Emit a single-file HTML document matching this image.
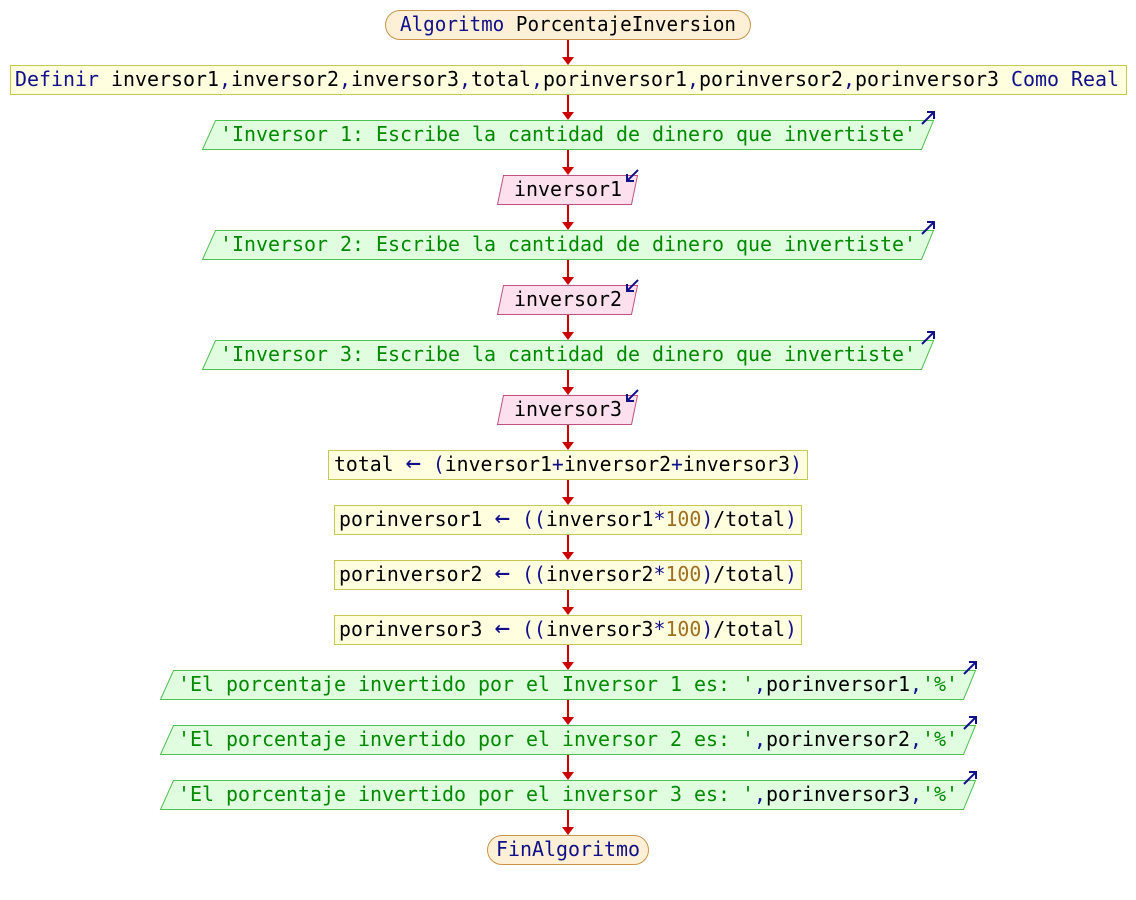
<!DOCTYPE html>
<html><head><meta charset="utf-8"><style>
html,body{margin:0;padding:0;background:#fff;width:1136px;height:900px;overflow:hidden}
text{font-family:"DejaVu Sans Mono","Liberation Mono",monospace;font-size:20px}
.k{fill:#10108a}.i{fill:#000}.s{fill:#008a00}.n{fill:#a07020}
.ar{font-size:26px}
</style></head><body>
<svg width="1136" height="900" xmlns="http://www.w3.org/2000/svg">
<g stroke="#cc0000" stroke-width="2">
<line x1="568" y1="39" x2="568" y2="58"/>
<line x1="568" y1="95" x2="568" y2="113"/>
<line x1="568" y1="150" x2="568" y2="168"/>
<line x1="568" y1="205" x2="568" y2="223"/>
<line x1="568" y1="260" x2="568" y2="278"/>
<line x1="568" y1="315" x2="568" y2="333"/>
<line x1="568" y1="370" x2="568" y2="388"/>
<line x1="568" y1="425" x2="568" y2="443"/>
<line x1="568" y1="480" x2="568" y2="498"/>
<line x1="568" y1="535" x2="568" y2="553"/>
<line x1="568" y1="590" x2="568" y2="608"/>
<line x1="568" y1="645" x2="568" y2="663"/>
<line x1="568" y1="700" x2="568" y2="718"/>
<line x1="568" y1="755" x2="568" y2="773"/>
<line x1="568" y1="810" x2="568" y2="828"/>
</g>
<g fill="#cc0000">
<polygon points="562,57 574,57 568,65"/>
<polygon points="562,112 574,112 568,120"/>
<polygon points="562,167 574,167 568,175"/>
<polygon points="562,222 574,222 568,230"/>
<polygon points="562,277 574,277 568,285"/>
<polygon points="562,332 574,332 568,340"/>
<polygon points="562,387 574,387 568,395"/>
<polygon points="562,442 574,442 568,450"/>
<polygon points="562,497 574,497 568,505"/>
<polygon points="562,552 574,552 568,560"/>
<polygon points="562,607 574,607 568,615"/>
<polygon points="562,662 574,662 568,670"/>
<polygon points="562,717 574,717 568,725"/>
<polygon points="562,772 574,772 568,780"/>
<polygon points="562,827 574,827 568,835"/>
</g>
<!-- start -->
<rect x="385.5" y="10.5" width="365" height="29" rx="14.5" fill="#fdf0d6" stroke="#c8944a"/>
<text x="568" y="31" text-anchor="middle" textLength="336" lengthAdjust="spacingAndGlyphs"><tspan class="k">Algoritmo</tspan> <tspan class="i">PorcentajeInversion</tspan></text>
<!-- define -->
<rect x="10.5" y="65.5" width="1116" height="29" fill="#ffffe0" stroke="#c8c850"/>
<text x="15" y="86" textLength="1104" lengthAdjust="spacingAndGlyphs"><tspan class="k">Definir</tspan> <tspan class="i">inversor1</tspan><tspan class="k">,</tspan><tspan class="i">inversor2</tspan><tspan class="k">,</tspan><tspan class="i">inversor3</tspan><tspan class="k">,</tspan><tspan class="i">total</tspan><tspan class="k">,</tspan><tspan class="i">porinversor1</tspan><tspan class="k">,</tspan><tspan class="i">porinversor2</tspan><tspan class="k">,</tspan><tspan class="i">porinversor3</tspan> <tspan class="k">Como Real</tspan></text>

<g fill="#e0fde0" stroke="#50c050">
<polygon points="215.5,120.5 933.5,120.5 921.5,149.5 202.5,149.5"/>
<polygon points="215.5,230.5 933.5,230.5 921.5,259.5 202.5,259.5"/>
<polygon points="215.5,340.5 933.5,340.5 921.5,369.5 202.5,369.5"/>
<polygon points="173.5,670.5 975.5,670.5 963.5,699.5 160.5,699.5"/>
<polygon points="173.5,725.5 975.5,725.5 963.5,754.5 160.5,754.5"/>
<polygon points="173.5,780.5 975.5,780.5 963.5,809.5 160.5,809.5"/>
</g>
<text x="220" y="141" class="s" textLength="696" lengthAdjust="spacingAndGlyphs">'Inversor 1: Escribe la cantidad de dinero que invertiste'</text>
<text x="220" y="251" class="s" textLength="696" lengthAdjust="spacingAndGlyphs">'Inversor 2: Escribe la cantidad de dinero que invertiste'</text>
<text x="220" y="361" class="s" textLength="696" lengthAdjust="spacingAndGlyphs">'Inversor 3: Escribe la cantidad de dinero que invertiste'</text>
<text x="178" y="691" textLength="780" lengthAdjust="spacingAndGlyphs"><tspan class="s">'El porcentaje invertido por el Inversor 1 es: '</tspan><tspan class="k">,</tspan><tspan class="i">porinversor1</tspan><tspan class="k">,</tspan><tspan class="s">'%'</tspan></text>
<text x="178" y="746" textLength="780" lengthAdjust="spacingAndGlyphs"><tspan class="s">'El porcentaje invertido por el inversor 2 es: '</tspan><tspan class="k">,</tspan><tspan class="i">porinversor2</tspan><tspan class="k">,</tspan><tspan class="s">'%'</tspan></text>
<text x="178" y="801" textLength="780" lengthAdjust="spacingAndGlyphs"><tspan class="s">'El porcentaje invertido por el inversor 3 es: '</tspan><tspan class="k">,</tspan><tspan class="i">porinversor3</tspan><tspan class="k">,</tspan><tspan class="s">'%'</tspan></text>
<g stroke="#10108a" stroke-width="2" fill="none">
<path d="M922,124 L934,112 M927,112 L934,112 L934,119"/>
<path d="M922,234 L934,222 M927,222 L934,222 L934,229"/>
<path d="M922,344 L934,332 M927,332 L934,332 L934,339"/>
<path d="M964,674 L976,662 M969,662 L976,662 L976,669"/>
<path d="M964,729 L976,717 M969,717 L976,717 L976,724"/>
<path d="M964,784 L976,772 M969,772 L976,772 L976,779"/>
</g>
<g fill="#fde0ee" stroke="#c05080">
<polygon points="503.5,175.5 637.5,175.5 631.5,204.5 497.5,204.5"/>
<polygon points="503.5,285.5 637.5,285.5 631.5,314.5 497.5,314.5"/>
<polygon points="503.5,395.5 637.5,395.5 631.5,424.5 497.5,424.5"/>
</g>
<text x="514" y="196" class="i" textLength="108" lengthAdjust="spacingAndGlyphs">inversor1</text>
<text x="514" y="306" class="i" textLength="108" lengthAdjust="spacingAndGlyphs">inversor2</text>
<text x="514" y="416" class="i" textLength="108" lengthAdjust="spacingAndGlyphs">inversor3</text>
<g stroke="#10108a" stroke-width="2" fill="none">
<path d="M638,170 L627,181 M627,174 L627,181 L634,181"/>
<path d="M638,280 L627,291 M627,284 L627,291 L634,291"/>
<path d="M638,390 L627,401 M627,394 L627,401 L634,401"/>
</g>
<g fill="#ffffe0" stroke="#c8c850">
<rect x="328.5" y="450.5" width="479" height="29"/>
<rect x="334.5" y="505.5" width="467" height="29"/>
<rect x="334.5" y="560.5" width="467" height="29"/>
<rect x="334.5" y="615.5" width="467" height="29"/>
</g>
<text x="334" y="471" textLength="468" lengthAdjust="spacingAndGlyphs"><tspan class="i">total</tspan> <tspan class="k ar">←</tspan> <tspan class="k">(</tspan><tspan class="i">inversor1</tspan><tspan class="k">+</tspan><tspan class="i">inversor2</tspan><tspan class="k">+</tspan><tspan class="i">inversor3</tspan><tspan class="k">)</tspan></text>
<text x="339" y="526" textLength="458" lengthAdjust="spacingAndGlyphs"><tspan class="i">porinversor1</tspan> <tspan class="k ar">←</tspan> <tspan class="k">((</tspan><tspan class="i">inversor1</tspan><tspan class="k">*</tspan><tspan class="n">100</tspan><tspan class="k">)</tspan><tspan class="i">/total</tspan><tspan class="k">)</tspan></text>
<text x="339" y="581" textLength="458" lengthAdjust="spacingAndGlyphs"><tspan class="i">porinversor2</tspan> <tspan class="k ar">←</tspan> <tspan class="k">((</tspan><tspan class="i">inversor2</tspan><tspan class="k">*</tspan><tspan class="n">100</tspan><tspan class="k">)</tspan><tspan class="i">/total</tspan><tspan class="k">)</tspan></text>
<text x="339" y="636" textLength="458" lengthAdjust="spacingAndGlyphs"><tspan class="i">porinversor3</tspan> <tspan class="k ar">←</tspan> <tspan class="k">((</tspan><tspan class="i">inversor3</tspan><tspan class="k">*</tspan><tspan class="n">100</tspan><tspan class="k">)</tspan><tspan class="i">/total</tspan><tspan class="k">)</tspan></text>
<rect x="487.5" y="835.5" width="161" height="29" rx="14.5" fill="#fdf0d6" stroke="#c8944a"/>
<text x="568" y="856" text-anchor="middle" class="k" textLength="144" lengthAdjust="spacingAndGlyphs">FinAlgoritmo</text>
</svg>
</body></html>
